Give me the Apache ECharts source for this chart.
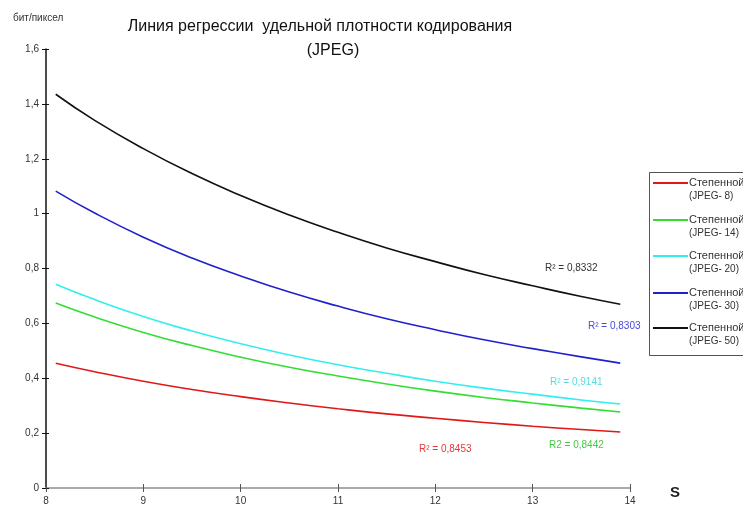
<!DOCTYPE html>
<html>
<head>
<meta charset="utf-8">
<script src="https://cdn.jsdelivr.net/npm/echarts@6/dist/echarts.min.js"></script>
<style>
	html, body { margin: 0; padding: 0; background: #fff; }
	#chart { width: 743px; height: 509px; }
</style>
</head>
<body>
<div id="chart"></div>
<script>
// S values where the regression curves were sampled
var sValues = [8.1, 8.5, 9, 9.5, 10, 10.5, 11, 11.5, 12, 12.5, 13, 13.5, 13.9];

// bit/pixel
var jpeg8  = [0.455, 0.424, 0.389, 0.359, 0.333, 0.310, 0.289, 0.270, 0.254, 0.239, 0.225, 0.213, 0.204];
var jpeg14 = [0.674, 0.623, 0.567, 0.519, 0.477, 0.440, 0.408, 0.379, 0.353, 0.330, 0.310, 0.291, 0.277];
var jpeg20 = [0.743, 0.687, 0.625, 0.572, 0.526, 0.485, 0.449, 0.418, 0.389, 0.364, 0.342, 0.321, 0.306];
var jpeg30 = [1.082, 1.002, 0.914, 0.838, 0.773, 0.714, 0.663, 0.617, 0.577, 0.540, 0.508, 0.478, 0.455];
var jpeg50 = [1.435, 1.340, 1.237, 1.146, 1.066, 0.995, 0.932, 0.875, 0.825, 0.778, 0.737, 0.698, 0.670];

var seriesNames = ['(JPEG- 8)', '(JPEG- 14)', '(JPEG- 20)', '(JPEG- 30)', '(JPEG- 50)'];
var r2Labels = ['R\u00B2 = 0,8453', 'R2 = 0,8442', 'R\u00B2 = 0,9141', 'R\u00B2 = 0,8303', 'R\u00B2 = 0,8332'];

var xTicks = [8, 14, 1];
var yTicks = [0, 1.6, 0.2];

var lineColors = ['#e01818', '#33dd33', '#33eeee', '#2020cc', '#111111'];
var labelColors = ['#e03a3a', '#44cc44', '#55dddd', '#4a4ad8', '#333333'];
var narrow = '"Liberation Sans Narrow", "Liberation Sans", Arial, sans-serif';

var myChart = echarts.init(document.getElementById('chart'));

function pairs(ys) {
	var out = [];
	for (var i = 0; i < sValues.length; i++) {
		out.push([sValues[i], ys[i]]);
	}
	return out;
}

var allData = [jpeg8, jpeg14, jpeg20, jpeg30, jpeg50];
var series = [];
for (var i = 0; i < allData.length; i++) {
	series.push({
		name: seriesNames[i],
		type: 'line',
		smooth: true,
		showSymbol: false,
		lineStyle: { color: lineColors[i], width: 1.6 },
		data: pairs(allData[i])
	});
}

// R² labels, placed where the original had them
var r2Pos = [[419, 444], [549, 440], [550, 377], [588, 321], [545, 263]];
var graphics = [];
for (i = 0; i < r2Labels.length; i++) {
	graphics.push({
		type: 'text', left: r2Pos[i][0], top: r2Pos[i][1],
		style: { text: r2Labels[i], fill: labelColors[i], font: '10px ' + narrow }
	});
}

// legend box (drawn by hand to keep the two-line layout)
graphics.push({
	type: 'rect', left: 649, top: 172,
	shape: { width: 120, height: 183 },
	style: { fill: '#fff', stroke: '#555', lineWidth: 1 }
});
var legendY = [183, 220, 256, 293, 328];
for (i = 0; i < seriesNames.length; i++) {
	graphics.push({
		type: 'line',
		shape: { x1: 653, y1: legendY[i], x2: 688, y2: legendY[i] },
		style: { stroke: lineColors[i], lineWidth: 2 }
	});
	graphics.push({
		type: 'text', left: 689, top: legendY[i] - 6,
		style: { text: '\u0421\u0442\u0435\u043f\u0435\u043d\u043d\u043e\u0439', fill: '#333', font: '11px "Liberation Sans", Arial, sans-serif' }
	});
	graphics.push({
		type: 'text', left: 689, top: legendY[i] + 8,
		style: { text: seriesNames[i], fill: '#333', font: '10px ' + narrow }
	});
}

// axis names
graphics.push({
	type: 'text', left: 13, top: 13,
	style: { text: '\u0431\u0438\u0442/\u043f\u0438\u043a\u0441\u0435\u043b', fill: '#333', font: '10px ' + narrow }
});
graphics.push({
	type: 'text', left: 670, top: 485,
	style: { text: 'S', fill: '#222', font: 'bold 15px "Liberation Sans", Arial, sans-serif' }
});

function commaLabel(v) {
	return String(Math.round(v * 10) / 10).replace('.', ',');
}

var option = {
	animation: false,
	backgroundColor: '#fff',
	title: [{
		text: '\u041b\u0438\u043d\u0438\u044f \u0440\u0435\u0433\u0440\u0435\u0441\u0441\u0438\u0438  \u0443\u0434\u0435\u043b\u044c\u043d\u043e\u0439 \u043f\u043b\u043e\u0442\u043d\u043e\u0441\u0442\u0438 \u043a\u043e\u0434\u0438\u0440\u043e\u0432\u0430\u043d\u0438\u044f',
		left: 315, top: 14, textAlign: 'center',
		textStyle: { fontFamily: '"Liberation Sans", Arial, sans-serif', fontSize: 16, fontWeight: 'normal', color: '#111' }
	}, {
		text: '(JPEG)',
		left: 328, top: 38, textAlign: 'center',
		textStyle: { fontFamily: '"Liberation Sans", Arial, sans-serif', fontSize: 16, fontWeight: 'normal', color: '#111' }
	}],
	grid: { left: 46, right: 113, top: 49, bottom: 21, containLabel: false },
	xAxis: [{
		type: 'value', min: xTicks[0], max: xTicks[1], interval: xTicks[2],
		axisLine: { lineStyle: { color: '#aaa', width: 2 } },
		axisTick: { show: true, length: 4, lineStyle: { color: '#555' } },
		splitLine: { show: false },
		axisLabel: { margin: 8, color: '#333', fontSize: 10, fontFamily: narrow }
	}, {
		type: 'value', min: xTicks[0], max: xTicks[1], interval: xTicks[2],
		position: 'bottom',
		axisLine: { show: false },
		axisTick: { show: true, inside: true, length: 4, lineStyle: { color: '#555' } },
		splitLine: { show: false },
		axisLabel: { show: false }
	}],
	yAxis: [{
		type: 'value', min: yTicks[0], max: yTicks[1], interval: yTicks[2],
		axisLine: { show: true, lineStyle: { color: '#111', width: 1.5 } },
		axisTick: { show: true, length: 4, lineStyle: { color: '#111' } },
		splitLine: { show: false },
		axisLabel: { margin: 7, color: '#333', fontSize: 10, fontFamily: narrow, formatter: commaLabel }
	}, {
		type: 'value', min: yTicks[0], max: yTicks[1], interval: yTicks[2],
		position: 'left',
		axisLine: { show: false },
		axisTick: { show: true, inside: true, length: 3, lineStyle: { color: '#111' } },
		splitLine: { show: false },
		axisLabel: { show: false }
	}],
	series: series,
	graphic: graphics
};

myChart.setOption(option);
</script>
</body>
</html>
